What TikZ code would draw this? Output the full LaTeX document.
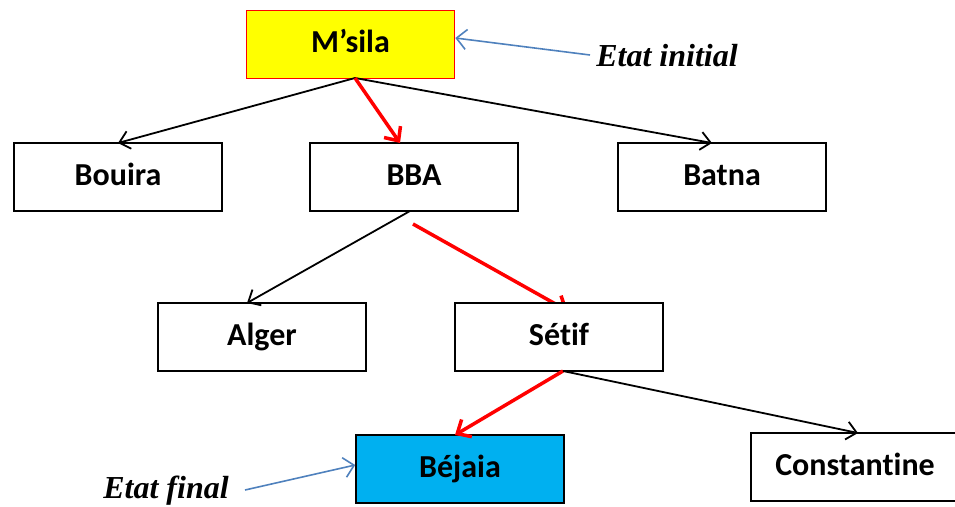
\documentclass[tikz,border=0pt]{standalone}
\usepackage{fontspec}
\setmainfont[Ligatures={NoCommon}]{Carlito}
\newfontfamily\labelfont{Liberation Serif}
\usetikzlibrary{arrows.meta}
\definecolor{startfill}{RGB}{255,255,0}
\definecolor{goalfill}{RGB}{0,176,240}
\definecolor{notearrow}{RGB}{79,129,189}
\tikzset{
  city/.style={draw=black, line width=1.6pt, fill=white, minimum width=208pt, minimum height=68pt,
    inner sep=0pt, text height=16pt, text depth=0pt, font=\fontsize{32}{36}\selectfont\bfseries},
  branch/.style={draw=black, line width=1.8pt, -{Straight Barb[length=10pt,width=18pt,line width=1.8pt]}},
  path/.style={draw=red, line width=3.5pt, -{Straight Barb[length=11pt,width=20pt,line width=3.5pt]}},
  note/.style={draw=notearrow, line width=1.6pt, -{Straight Barb[length=10pt,width=20pt,line width=1.6pt]}},
  notetext/.style={font=\labelfont\fontsize{32}{36}\selectfont\bfseries\itshape, inner sep=0pt}
}
\begin{document}
\begin{tikzpicture}[x=1pt,y=-1pt]
  \useasboundingbox (0,0) rectangle (955,506);
  % this step's head runs under the Sétif box, so it is drawn first
  \coordinate (r0) at (413,224);
  \coordinate (r1) at (568,311);
  \draw[path] (r0) -- (r1);
  % cities
  \node[city, fill=startfill, draw=red] (msila) at (350.5,44.5) {M’sila};
  \node[city] (bouira) at (118,177) {Bouira};
  \node[city] (bba) at (414,177) {BBA};
  \node[city] (batna) at (722,177) {Batna};
  \node[city] (alger) at (262,337) {Alger};
  \node[city] (setif) at (559,337) {Sétif};
  \node[city, fill=goalfill] (bejaia) at (460,469) {Béjaia};
  \node[city] (constantine) at (855,467) {Constantine};
  % anchor points on the edges of the boxes
  \coordinate (m0) at (355,78);
  \coordinate (b0) at (410,211);
  \coordinate (s0) at (563,371);
  % search tree
  \draw[branch] (m0) -- (118,143);
  \draw[branch] (m0) -- (712,143);
  \draw[path] (m0) -- (400,143);
  \draw[branch] (b0) -- (247,303);
  \draw[path] (s0) -- (455,435);
  \draw[branch] (s0) -- (858,433);
  % annotations
  \node[notetext] (init) at (667,56) {Etat initial};
  \node[notetext] (final) at (166,491) {Etat final};
  \draw[note] (590,55) -- (msila.east |- 0,38);
  \draw[note] (245,490) -- (bejaia.west |- 0,465);
\end{tikzpicture}
\end{document}
